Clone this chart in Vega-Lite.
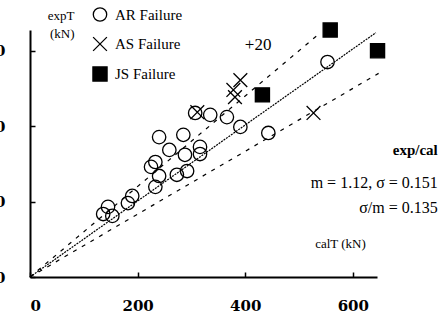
{
  "$schema": "https://vega.github.io/schema/vega-lite/v6.json",
  "width": 347,
  "height": 247,
  "autosize": "none",
  "padding": {"left": 30, "top": 30, "right": 66, "bottom": 45},
  "background": "white",
  "config": {
    "view": {"stroke": null},
    "axis": {
      "grid": false,
      "domainColor": "black",
      "domainWidth": 2,
      "tickColor": "black",
      "tickWidth": 1.5,
      "tickSize": -5,
      "labelColor": "black",
      "labelFont": "DejaVu Serif",
      "labelFontWeight": "bold",
      "labelFontSize": 15,
      "titleColor": "black",
      "titleFont": "Liberation Serif",
      "titleFontWeight": "normal",
      "titleFontSize": 13
    },
    "legend": {
      "orient": "none",
      "legendX": 62,
      "legendY": -23,
      "title": null,
      "labelFont": "Liberation Serif",
      "labelFontSize": 15,
      "labelColor": "black",
      "symbolStrokeWidth": 1.3,
      "rowPadding": 10,
      "labelOffset": 7,
      "padding": 0
    }
  },
  "datasets": {
    "pts": [
      {"type": "AR Failure", "cal": 240, "exp": 371},
      {"type": "AR Failure", "cal": 285, "exp": 377},
      {"type": "AR Failure", "cal": 259, "exp": 337},
      {"type": "AR Failure", "cal": 316, "exp": 345},
      {"type": "AR Failure", "cal": 288, "exp": 324},
      {"type": "AR Failure", "cal": 316, "exp": 326},
      {"type": "AR Failure", "cal": 233, "exp": 305},
      {"type": "AR Failure", "cal": 225, "exp": 292},
      {"type": "AR Failure", "cal": 240, "exp": 268},
      {"type": "AR Failure", "cal": 273, "exp": 271},
      {"type": "AR Failure", "cal": 292, "exp": 281},
      {"type": "AR Failure", "cal": 233, "exp": 239},
      {"type": "AR Failure", "cal": 190, "exp": 215},
      {"type": "AR Failure", "cal": 182, "exp": 196},
      {"type": "AR Failure", "cal": 145, "exp": 186},
      {"type": "AR Failure", "cal": 136, "exp": 167},
      {"type": "AR Failure", "cal": 153, "exp": 162},
      {"type": "AR Failure", "cal": 307, "exp": 435},
      {"type": "AR Failure", "cal": 335, "exp": 430},
      {"type": "AR Failure", "cal": 366, "exp": 424},
      {"type": "AR Failure", "cal": 391, "exp": 398},
      {"type": "AR Failure", "cal": 443, "exp": 382},
      {"type": "AR Failure", "cal": 553, "exp": 570},
      {"type": "AS Failure", "cal": 311, "exp": 437},
      {"type": "AS Failure", "cal": 391, "exp": 522},
      {"type": "AS Failure", "cal": 378, "exp": 496},
      {"type": "AS Failure", "cal": 381, "exp": 477},
      {"type": "AS Failure", "cal": 527, "exp": 435},
      {"type": "JS Failure", "cal": 558, "exp": 655},
      {"type": "JS Failure", "cal": 646, "exp": 600},
      {"type": "JS Failure", "cal": 432, "exp": 483}
    ],
    "lines": [
      {"line": "eq", "cal": 0, "exp": 0},
      {"line": "eq", "cal": 643, "exp": 648},
      {"line": "up", "cal": 0, "exp": 0},
      {"line": "up", "cal": 540, "exp": 648},
      {"line": "lo", "cal": 0, "exp": 0},
      {"line": "lo", "cal": 648, "exp": 540}
    ],
    "one": [{}]
  },
  "layer": [
    {
      "data": {"name": "lines"},
      "mark": {"type": "line", "color": "black", "strokeWidth": 1.2, "clip": false},
      "encoding": {
        "x": {"field": "cal", "type": "quantitative", "scale": {"domain": [0, 645], "nice": false},
          "axis": {"values": [0, 200, 400, 600], "labelPadding": 26, "labelDx": -7, "title": "calT (kN)", "titleX": 310, "titleY": -34, "titleBaseline": "middle", "titleAnchor": null}},
        "y": {"field": "exp", "type": "quantitative", "scale": {"domain": [0, 655], "nice": false},
          "axis": {"values": [0, 200, 400, 600], "labelPadding": 30, "title": ["expT", "(kN)"], "titleAngle": 0, "titleX": 44, "titleY": -15, "titleAlign": "right", "titleBaseline": "middle", "titleLineHeight": 18}},
        "detail": {"field": "line"},
        "strokeDash": {"field": "line", "type": "nominal", "legend": null,
          "scale": {"domain": ["eq", "up", "lo"], "range": [[2, 1], [4, 6], [4, 6]]}}
      }
    },
    {
      "data": {"name": "pts"},
      "mark": {"type": "point", "strokeWidth": 1.3, "opacity": 1, "clip": false},
      "encoding": {
        "x": {"field": "cal", "type": "quantitative"},
        "y": {"field": "exp", "type": "quantitative"},
        "stroke": {"field": "type", "type": "nominal",
          "scale": {"domain": ["AR Failure", "AS Failure", "JS Failure"], "range": ["black", "black", "black"]}},
        "shape": {"field": "type", "type": "nominal",
          "scale": {"domain": ["AR Failure", "AS Failure", "JS Failure"], "range": ["circle", "M-1,-1L1,1M-1,1L1,-1", "square"]}},
        "fill": {"field": "type", "type": "nominal",
          "scale": {"domain": ["AR Failure", "AS Failure", "JS Failure"], "range": ["transparent", "transparent", "black"]}},
        "size": {"field": "type", "type": "nominal",
          "scale": {"domain": ["AR Failure", "AS Failure", "JS Failure"], "range": [180, 200, 250]}}
      }
    },
    {
      "data": {"name": "one"},
      "mark": {"type": "text", "font": "Liberation Serif", "fontSize": 17, "align": "center", "baseline": "middle"},
      "encoding": {"x": {"datum": 424}, "y": {"datum": 615}, "text": {"value": "+20"}}
    },
    {
      "data": {"name": "one"},
      "mark": {"type": "text", "font": "Liberation Serif", "fontWeight": "bold", "fontSize": 15, "align": "right", "baseline": "middle"},
      "encoding": {"x": {"datum": 758}, "y": {"datum": 337}, "text": {"value": "exp/cal"}}
    },
    {
      "data": {"name": "one"},
      "mark": {"type": "text", "font": "Liberation Serif", "fontSize": 16, "align": "right", "baseline": "middle"},
      "encoding": {"x": {"datum": 758}, "y": {"datum": 249}, "text": {"value": "m = 1.12,   σ = 0.151"}}
    },
    {
      "data": {"name": "one"},
      "mark": {"type": "text", "font": "Liberation Serif", "fontSize": 16, "align": "right", "baseline": "middle"},
      "encoding": {"x": {"datum": 758}, "y": {"datum": 183}, "text": {"value": "σ/m = 0.135"}}
    }
  ]
}
